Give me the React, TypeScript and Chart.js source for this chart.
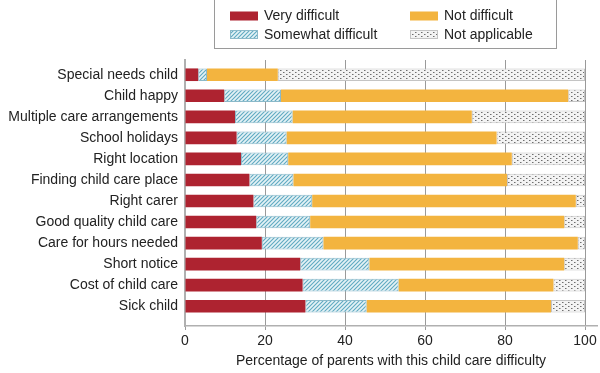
import React, { useEffect, useRef } from 'react';
import { Chart, registerables } from 'chart.js';

Chart.register(...registerables);

const categories = [
  'Special needs child',
  'Child happy',
  'Multiple care arrangements',
  'School holidays',
  'Right location',
  'Finding child care place',
  'Right carer',
  'Good quality child care',
  'Care for hours needed',
  'Short notice',
  'Cost of child care',
  'Sick child',
];
const veryDifficult = [3.3, 9.8, 12.5, 12.9, 14.0, 16.1, 17.1, 17.8, 19.2, 28.8, 29.4, 30.1];
const somewhatDifficult = [2.2, 14.2, 14.4, 12.5, 11.8, 11.0, 14.7, 13.5, 15.4, 17.3, 24.0, 15.3];
const notDifficult = [17.7, 71.8, 44.8, 52.5, 55.9, 53.4, 65.9, 63.5, 63.6, 48.7, 38.7, 46.1];
const notApplicable = [76.8, 4.2, 28.3, 22.1, 18.3, 19.5, 2.3, 5.2, 1.8, 5.2, 7.9, 8.5];
const seriesNames = ['Very difficult', 'Somewhat difficult', 'Not difficult', 'Not applicable'];
const xTicks = [0, 20, 40, 60, 80, 100];
const xTitle = 'Percentage of parents with this child care difficulty';

const FONT = '"Liberation Sans", Arial, sans-serif';
const RED = '#ae2330';
const ORANGE = '#f3b43f';

function makeHatch(): CanvasPattern | string {
  const c = document.createElement('canvas');
  c.width = 4;
  c.height = 4;
  const g = c.getContext('2d');
  if (!g) return '#bcdbe6';
  g.fillStyle = '#e4f2f6';
  g.fillRect(0, 0, 4, 4);
  g.strokeStyle = '#5fa9c1';
  g.lineWidth = 1.1;
  g.beginPath();
  g.moveTo(0, 4); g.lineTo(4, 0);
  g.moveTo(-1, 1); g.lineTo(1, -1);
  g.moveTo(3, 5); g.lineTo(5, 3);
  g.stroke();
  return g.createPattern(c, 'repeat') || '#bcdbe6';
}

function makeDots(): CanvasPattern | string {
  const c = document.createElement('canvas');
  c.width = 6;
  c.height = 4;
  const g = c.getContext('2d');
  if (!g) return '#eeeeee';
  g.fillStyle = '#f3f3f3';
  g.fillRect(0, 0, 6, 4);
  g.fillStyle = '#6e6e6e';
  g.fillRect(1, 0, 1, 1);
  g.fillRect(4, 2, 1, 1);
  g.fillStyle = '#b0b0b0';
  g.fillRect(2, 0, 1, 1);
  g.fillRect(5, 2, 1, 1);
  return g.createPattern(c, 'repeat') || '#eeeeee';
}

export default function App() {
  const ref = useRef<HTMLCanvasElement | null>(null);

  useEffect(() => {
    if (!ref.current) return;
    const hatch = makeHatch();
    const dots = makeDots();
    const fills = [RED, hatch, ORANGE, dots];
    const borders = [null, '#8bb9c9', null, '#c4c4c4'];
    const series = [veryDifficult, somewhatDifficult, notDifficult, notApplicable];

    const legendPlugin = {
      id: 'boxLegend',
      afterDraw(chart: any) {
        const ctx = chart.ctx as CanvasRenderingContext2D;
        ctx.save();
        ctx.strokeStyle = '#9a9a9a';
        ctx.lineWidth = 1;
        ctx.strokeRect(214.5, -2, 342, 50.5);
        const pos = [
          [230, 11.5],
          [230, 30],
          [410, 11.5],
          [410, 30],
        ];
        ctx.font = `14px ${FONT}`;
        ctx.textBaseline = 'middle';
        ctx.textAlign = 'left';
        seriesNames.forEach((name, i) => {
          const [x, y] = pos[i];
          ctx.fillStyle = fills[i] as any;
          ctx.fillRect(x, y, 28, 9);
          if (borders[i]) {
            ctx.strokeStyle = borders[i] as string;
            ctx.strokeRect(x + 0.5, y + 0.5, 27, 8);
          }
          ctx.fillStyle = '#222';
          ctx.fillText(name, x + 34, y + 5);
        });
        ctx.restore();
      },
    };

    const chart = new Chart(ref.current, {
      type: 'bar',
      data: {
        datasets: series.map((vals, si) => ({
          label: seriesNames[si],
          data: vals.map((v, i) => ({ x: v, y: i })),
          backgroundColor: fills[si] as any,
          borderColor: (borders[si] || 'rgba(0,0,0,0)') as string,
          borderWidth: borders[si] ? 1 : 0,
          borderSkipped: false,
          barPercentage: 0.6,
          categoryPercentage: 1,
        })),
      },
      options: {
        animation: false,
        responsive: false,
        indexAxis: 'y',
        layout: { padding: { top: 60, right: 3, left: 0, bottom: 0 } },
        plugins: { legend: { display: false }, tooltip: { enabled: false } },
        scales: {
          x: {
            type: 'linear',
            stacked: true,
            min: 0,
            max: 103,
            offset: false,
            position: 'bottom',
            afterBuildTicks: (s: any) => {
              s.ticks = xTicks.map((v) => ({ value: v }));
            },
            afterFit: (s: any) => {
              s.height = 47;
            },
            grid: { offset: false, color: '#9a9a9a', lineWidth: 1, drawTicks: true, tickLength: 4, tickColor: '#9a9a9a' },
            border: { color: '#b0b0b0', width: 1.5 },
            ticks: { font: { family: FONT, size: 14 }, color: '#222', padding: 3, maxRotation: 0, autoSkip: false },
            title: {
              display: true,
              text: xTitle,
              font: { family: FONT, size: 14 },
              color: '#222',
              padding: { top: 0, bottom: 3 },
            },
          },
          y: {
            type: 'linear',
            stacked: true,
            reverse: true,
            offset: false,
            min: -0.7,
            max: 11.94,
            afterBuildTicks: (s: any) => {
              s.ticks = categories.map((_, i) => ({ value: i }));
            },
            afterFit: (s: any) => {
              s.width = 185;
            },
            grid: { display: false, drawTicks: false, offset: false },
            border: { color: '#b0b0b0', width: 2 },
            ticks: {
              callback: (v: any) => categories[v] ?? '',
              font: { family: FONT, size: 14 },
              color: '#222',
              padding: 7,
              autoSkip: false,
            },
          },
        },
      } as any,
      plugins: [legendPlugin],
    });
    return () => chart.destroy();
  }, []);

  return (
    <div style={{ position: 'absolute', left: 0, top: 0, width: 600, height: 373, background: '#fff' }}>
      <canvas ref={ref} width={600} height={373} style={{ display: 'block', width: 600, height: 373 }} />
    </div>
  );
}
